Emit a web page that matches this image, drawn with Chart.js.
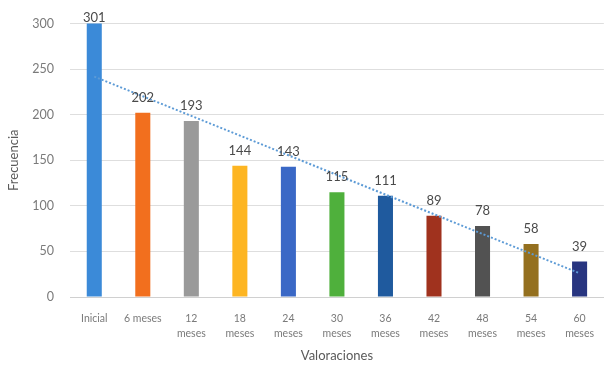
<!DOCTYPE html>
<html>
<head>
<meta charset="utf-8">
<script src="https://cdn.jsdelivr.net/npm/chart.js@4/dist/chart.umd.min.js"></script>
<style>
  html, body { margin: 0; padding: 0; background: #ffffff; }
  #wrap { width: 608px; height: 369px; position: relative; }
</style>
</head>
<body>
<div id="wrap"><canvas id="chart"></canvas></div>
<script>
// Follow-up assessments and how often each occurred
const categories = [
  'Inicial', '6 meses', ['12', 'meses'], ['18', 'meses'], ['24', 'meses'], ['30', 'meses'],
  ['36', 'meses'], ['42', 'meses'], ['48', 'meses'], ['54', 'meses'], ['60', 'meses']
];
const frecuencia = [301, 202, 193, 144, 143, 115, 111, 89, 78, 58, 39];
const barColors = [
  '#3b8ad8', '#f26f1e', '#9a9a9a', '#fdb522', '#3a68c6', '#4fb03c',
  '#1f5a9e', '#a0321e', '#525252', '#94701f', '#283580'
];
const yTicks = [0, 50, 100, 150, 200, 250, 300];

// Least-squares linear trend over the category index
function linearTrend(values) {
  const n = values.length;
  const xs = values.map((_, i) => i + 1);
  const mx = xs.reduce((a, b) => a + b, 0) / n;
  const my = values.reduce((a, b) => a + b, 0) / n;
  let sxy = 0, sxx = 0;
  xs.forEach((x, i) => { sxy += (x - mx) * (values[i] - my); sxx += (x - mx) * (x - mx); });
  const slope = sxy / sxx;
  return xs.map(x => my + slope * (x - mx));
}
const tendencia = linearTrend(frecuencia);

const FONT = 'Lato, "Open Sans", sans-serif';

// Value labels above each bar
const valueLabels = {
  id: 'valueLabels',
  afterDatasetsDraw(chart) {
    const ctx = chart.ctx;
    const meta = chart.getDatasetMeta(0);
    ctx.save();
    ctx.font = '13px ' + FONT;
    ctx.fillStyle = '#4a4a4a';
    ctx.textAlign = 'center';
    ctx.textBaseline = 'middle';
    meta.data.forEach((bar, i) => {
      const y = Math.max(bar.y - 15, 18);
      ctx.fillText(String(frecuencia[i]), bar.x, y);
    });
    ctx.restore();
  }
};

new Chart(document.getElementById('chart'), {
  data: {
    labels: categories,
    datasets: [
      {
        type: 'bar',
        data: frecuencia,
        backgroundColor: barColors,
        borderWidth: 0,
        categoryPercentage: 1,
        barPercentage: 0.31,
        order: 2
      },
      {
        type: 'line',
        data: tendencia,
        borderColor: '#5d9bd6',
        borderWidth: 2,
        borderDash: [2, 2],
        pointRadius: 0,
        fill: false,
        tension: 0,
        order: 1
      }
    ]
  },
  options: {
    responsive: true,
    maintainAspectRatio: false,
    animation: false,
    layout: { padding: { top: 22, right: 0, left: 0, bottom: 0 } },
    plugins: {
      legend: { display: false },
      tooltip: { enabled: false }
    },
    scales: {
      x: {
        grid: { display: false, drawTicks: false },
        border: { display: true, color: '#d0d0d0', width: 1 },
        ticks: {
          color: '#7a7a7a',
          font: { family: FONT, size: 10.5, lineHeight: 1.45 },
          padding: 14,
          maxRotation: 0,
          autoSkip: false
        },
        title: {
          display: true,
          text: 'Valoraciones',
          color: '#5a5a5a',
          font: { family: FONT, size: 13 },
          padding: { top: 2, bottom: 5 }
        },
        afterFit(scale) { scale.height = 72; }
      },
      y: {
        min: 0,
        max: 300,
        afterBuildTicks(scale) { scale.ticks = yTicks.map(v => ({ value: v })); },
        grid: { color: '#dedede', drawTicks: false },
        border: { display: false },
        ticks: {
          color: '#7a7a7a',
          font: { family: FONT, size: 12.5 },
          padding: 16
        },
        title: {
          display: true,
          text: 'Frecuencia',
          color: '#5a5a5a',
          font: { family: FONT, size: 13 },
          padding: { top: 6, bottom: 0 }
        },
        afterFit(scale) { scale.width = 70; }
      }
    }
  },
  plugins: [valueLabels]
});
</script>
</body>
</html>
